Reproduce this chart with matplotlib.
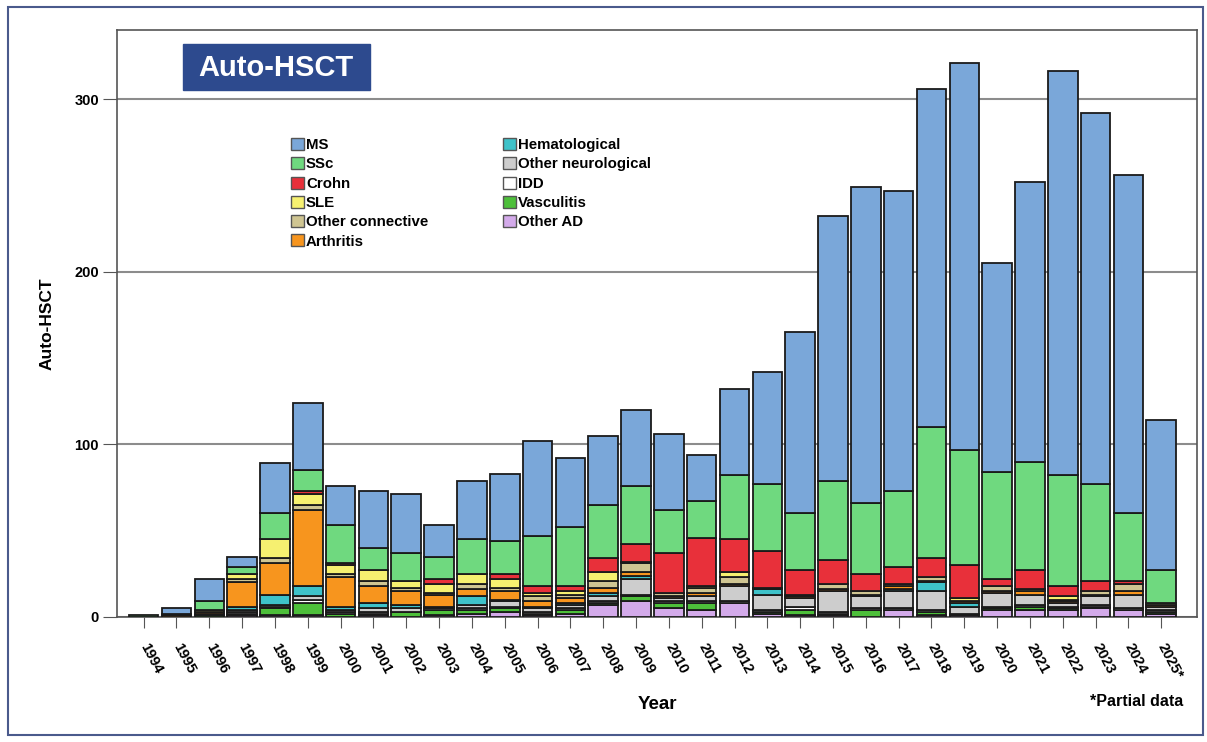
import numpy as np
import matplotlib
matplotlib.use('Agg')
import matplotlib.pyplot as plt
from matplotlib.patches import Rectangle, Patch

plt.rcParams['font.family'] = ['Liberation Sans', 'DejaVu Sans']
plt.rcParams['font.weight'] = 'bold'

years = [str(y) for y in range(1994, 2025)] + ['2025*']

# stacked from the top (legend order) down to the bottom
ms = [0, 3, 13, 6, 29, 39, 23, 33, 34, 18, 34, 39, 55, 40, 40, 44, 44, 27, 50, 65,
      105, 153, 183, 174, 196, 224, 121, 162, 234, 215, 196, 87]
ssc = [1, 1, 5, 4, 15, 12, 22, 13, 16, 13, 20, 19, 29, 34, 31, 34, 25, 21, 37, 39,
       33, 46, 41, 44, 76, 67, 62, 63, 64, 56, 39, 19]
crohn = [0, 0, 0, 0, 0, 2, 1, 0, 0, 3, 0, 3, 4, 3, 8, 10, 23, 28, 19, 21,
         14, 14, 10, 10, 11, 19, 4, 11, 6, 6, 2, 0]
sle = [0, 0, 1, 3, 11, 6, 5, 6, 4, 5, 6, 5, 2, 2, 5, 1, 0, 1, 3, 0,
       0, 0, 0, 0, 0, 2, 0, 0, 2, 0, 0, 0]
other_conn = [0, 0, 0, 2, 3, 3, 2, 3, 2, 1, 3, 2, 3, 2, 4, 5, 2, 3, 4, 0,
              1, 3, 2, 1, 2, 0, 3, 1, 1, 2, 4, 1]
arthritis = [0, 1, 1, 14, 18, 44, 17, 10, 8, 7, 4, 5, 3, 3, 3, 2, 1, 2, 1, 1,
             1, 1, 1, 2, 1, 1, 1, 2, 1, 1, 2, 1]
hemat = [0, 0, 1, 2, 6, 6, 2, 3, 2, 0, 5, 1, 1, 1, 2, 2, 0, 0, 0, 3,
         0, 0, 0, 1, 5, 2, 0, 0, 0, 0, 0, 0]
other_neuro = [0, 0, 0, 1, 1, 2, 1, 2, 2, 1, 2, 3, 2, 2, 3, 9, 2, 3, 9, 9,
               5, 12, 7, 10, 11, 4, 8, 6, 2, 5, 8, 2]
idd = [0, 0, 0, 1, 1, 2, 1, 1, 0, 1, 1, 1, 1, 1, 1, 1, 1, 1, 1, 1,
       2, 1, 1, 1, 1, 1, 1, 1, 1, 1, 1, 1]
vasc = [0, 0, 1, 1, 4, 7, 2, 1, 3, 3, 2, 2, 1, 2, 1, 3, 3, 4, 0, 1,
        3, 1, 4, 0, 2, 0, 1, 2, 1, 1, 0, 1]
other_ad = [0, 0, 0, 1, 1, 1, 0, 1, 0, 1, 2, 3, 1, 2, 7, 9, 5, 4, 8, 2,
            1, 1, 0, 4, 1, 1, 4, 4, 4, 5, 4, 2]

labels = ['MS', 'SSc', 'Crohn', 'SLE', 'Other connective', 'Arthritis',
          'Hematological', 'Other neurological', 'IDD', 'Vasculitis', 'Other AD']
series = [ms, ssc, crohn, sle, other_conn, arthritis, hemat, other_neuro, idd, vasc, other_ad]
colors = ['#7aa7d9', '#6fd97f', '#e8303a', '#f6f070', '#cfc592', '#f7951e',
          '#3ec2c9', '#cdcdcd', '#ffffff', '#4dbf3a', '#d3aaea']

fig = plt.figure(figsize=(12.07, 7.42), dpi=100)
ax = fig.add_axes([0.097, 0.1685, 0.895, 0.791])

x = np.arange(len(years))
bottom = np.zeros(len(years))
for vals, col in zip(series[::-1], colors[::-1]):
    v = np.array(vals, dtype=float)
    m = v > 0
    ax.bar(x[m], v[m], bottom=bottom[m], width=0.9, color=col,
           edgecolor='#1a1a1a', linewidth=1.3, zorder=3)
    bottom += v

ax.set_xlim(-0.81, 32.1)
ax.set_ylim(0, 340)
ax.set_yticks([0, 100, 200, 300])
ax.yaxis.grid(True, color='#8c8c8c', linewidth=1.5, zorder=0)
ax.set_axisbelow(True)
for s in ax.spines.values():
    s.set_color('#555555')
    s.set_linewidth(1.2)
ax.tick_params(axis='y', labelsize=10.5, length=10, color='#555555', pad=3)
ax.tick_params(axis='x', length=8, color='#555555', pad=2)
ax.set_xticks(x)
ax.set_xticklabels(years, rotation=-62, ha='left', va='center',
                   rotation_mode='anchor', fontsize=10.5)
for t in ax.get_xticklabels():
    t.set_y(-0.022)

ax.set_ylabel('Auto-HSCT', fontsize=12.5, fontweight='bold', labelpad=14)
fig.text(0.545, 0.05, 'Year', fontsize=13.5, fontweight='bold', ha='center', va='center')
fig.text(0.942, 0.055, '*Partial data', fontsize=11.5, fontweight='bold', ha='center', va='center')

# title box
fig.patches.append(Rectangle((183 / 1207, 1 - 90 / 742), 187 / 1207, 46 / 742,
                             transform=fig.transFigure, facecolor='#2d4a8e',
                             edgecolor='#2d4a8e', zorder=5))
fig.text(276 / 1207, 1 - 68 / 742, 'Auto-HSCT', fontsize=21, fontweight='bold',
         color='white', ha='center', va='center', zorder=6)

handles = [Patch(facecolor=c, edgecolor='#555555', linewidth=1.0) for c in colors]
ax.legend(handles, labels, ncol=2, frameon=False, fontsize=10.8,
          loc='upper left', bbox_to_anchor=(291 / 1207, 1 - 138 / 742),
          bbox_transform=fig.transFigure, handlelength=0.85, handleheight=0.85,
          handletextpad=0.15, labelspacing=0.34, columnspacing=5.0,
          borderpad=0, borderaxespad=0)

# outer frame
fig.patches.append(Rectangle((8 / 1207, 7 / 742), 1195 / 1207, 728 / 742,
                             transform=fig.transFigure, fill=False,
                             edgecolor='#4a5a8c', linewidth=1.5))

fig.savefig('out.png', dpi=100)
